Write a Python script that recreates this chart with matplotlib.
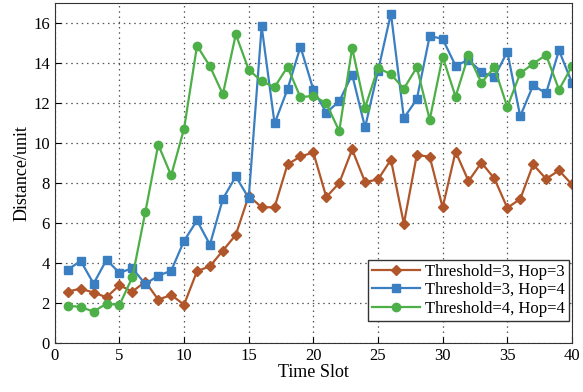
import numpy as np
import matplotlib
matplotlib.use('Agg')
import matplotlib.pyplot as plt

plt.rcParams['font.family'] = ['Liberation Serif', 'DejaVu Serif']
plt.rcParams['mathtext.fontset'] = 'stix'

# time slots 1..40
t = list(range(1, 41))

th3_hop3 = [2.57, 2.72, 2.52, 2.29, 2.89, 2.57, 3.07, 2.17, 2.40, 1.92,
            3.59, 3.84, 4.62, 5.41, 7.36, 6.79, 6.79, 8.93, 9.33, 9.53,
            7.30, 8.00, 9.68, 8.05, 8.18, 9.17, 5.96, 9.40, 9.32, 6.78,
            9.57, 8.10, 9.02, 8.23, 6.76, 7.20, 8.93, 8.21, 8.63, 7.93]

th3_hop4 = [3.66, 4.11, 2.97, 4.16, 3.51, 3.74, 2.95, 3.37, 3.61, 5.11,
            6.13, 4.92, 7.21, 8.33, 7.25, 15.84, 10.98, 12.69, 14.82, 12.67,
            11.52, 12.09, 13.42, 10.78, 13.61, 16.48, 11.25, 12.19, 15.36, 15.21,
            13.87, 14.16, 13.56, 13.29, 14.57, 11.34, 12.89, 12.49, 14.64, 13.02]

th4_hop4 = [1.87, 1.80, 1.57, 1.97, 1.90, 3.29, 6.54, 9.92, 8.38, 10.72,
            14.87, 13.84, 12.44, 15.44, 13.67, 13.09, 12.80, 13.81, 12.29, 12.37,
            11.99, 10.60, 14.76, 11.77, 13.76, 13.44, 12.72, 13.79, 11.17, 14.32,
            12.32, 14.39, 13.02, 13.79, 11.80, 13.49, 13.97, 14.41, 12.67, 13.84]

fig = plt.figure(figsize=(5.83, 3.92), dpi=100)
ax = fig.add_axes([0.094, 0.125, 0.887, 0.867])

ax.plot(t, th3_hop3, color='#b0562a', marker='D', markersize=5, lw=1.6,
        label='Threshold=3, Hop=3')
ax.plot(t, th3_hop4, color='#3a7fc1', marker='s', markersize=6, lw=1.6,
        label='Threshold=3, Hop=4')
ax.plot(t, th4_hop4, color='#4daf48', marker='o', markersize=6, lw=1.6,
        label='Threshold=4, Hop=4')

ax.set_xlim(0, 40)
ax.set_ylim(0, 17)
ax.set_xticks(np.arange(0, 41, 5))
ax.set_yticks(np.arange(0, 17, 2))
ax.tick_params(direction='in', labelsize=12, length=4)
ax.grid(True, linestyle=(0, (1.2, 3)), color='#555555', lw=0.9)
ax.set_xlabel('Time Slot', fontsize=13, labelpad=0)
ax.set_ylabel('Distance/unit', fontsize=13, labelpad=2)
for s in ax.spines.values():
    s.set_color('#333333')

leg = ax.legend(loc='lower right', bbox_to_anchor=(0.995, 0.065), fontsize=12,
                fancybox=False, edgecolor='#333333', framealpha=1,
                borderpad=0.25, labelspacing=0.15, handlelength=2.9,
                handletextpad=0.3, borderaxespad=0)
leg.get_frame().set_linewidth(1.0)

fig.savefig('out.png', dpi=100)
